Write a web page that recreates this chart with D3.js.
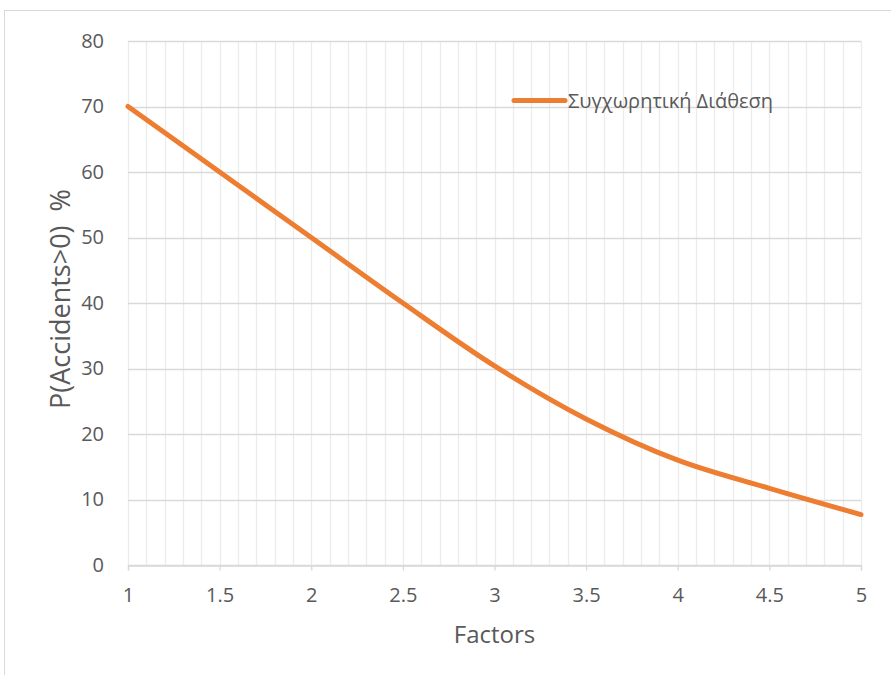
<!DOCTYPE html>
<html>
<head>
<meta charset="utf-8">
<script src="https://cdn.jsdelivr.net/npm/d3@7"></script>
<style>
  html, body { margin: 0; padding: 0; background: #fff; }
  svg { display: block; }
  text { font-family: "Open Sans", "Noto Sans", sans-serif; fill: #595959; }
</style>
</head>
<body>
<svg id="chart" width="891" height="675"></svg>
<script>
// Series: probability of at least one accident vs. number of factors
const factors = [1, 1.5, 2, 2.5, 3, 3.5, 4, 4.5, 5];
const probability = [70, 60, 50, 40, 30.4, 22.3, 16, 11.7, 7.7];
const seriesName = "Συγχωρητική Διάθεση";
const xTicks = [1, 1.5, 2, 2.5, 3, 3.5, 4, 4.5, 5];
const yTicks = [0, 10, 20, 30, 40, 50, 60, 70, 80];
const xTitle = "Factors";
const yTitle = "P(Accidents>0)\u00A0\u00A0%";

const FONT = '"Open Sans", "Noto Sans", sans-serif';
const svg = d3.select("#chart");

// Chart frame
svg.append("rect")
  .attr("x", 4.5).attr("y", 10.5)
  .attr("width", 920).attr("height", 700)
  .attr("fill", "#fff").attr("stroke", "#d9d9d9").attr("stroke-width", 1);

const x = d3.scaleLinear().domain([1, 5]).range([128, 861]);
const y = d3.scaleLinear().domain([0, 80]).range([565, 41]);

// Minor vertical gridlines every 0.1
const minor = d3.range(10, 51).map(d => d / 10);
svg.append("g")
  .selectAll("line")
  .data(minor)
  .join("line")
  .attr("x1", d => Math.round(x(d)) + 0.5)
  .attr("x2", d => Math.round(x(d)) + 0.5)
  .attr("y1", y(80)).attr("y2", y(0))
  .attr("stroke", "#ececec").attr("stroke-width", 1.3);

// Horizontal major gridlines
svg.append("g")
  .selectAll("line")
  .data(yTicks)
  .join("line")
  .attr("x1", x(1)).attr("x2", x(5))
  .attr("y1", d => Math.round(y(d)) + 0.5)
  .attr("y2", d => Math.round(y(d)) + 0.5)
  .attr("stroke", "#d9d9d9").attr("stroke-width", 1.3);

// X axis
const xAxis = svg.append("g")
  .attr("transform", `translate(0,${Math.round(y(0)) + 0.5})`)
  .call(d3.axisBottom(x).tickValues(xTicks).tickSize(5).tickPadding(17)
    .tickFormat(d3.format("")));
xAxis.select(".domain").attr("stroke", "#d9d9d9").attr("stroke-width", 1.3);
xAxis.selectAll(".tick line").attr("stroke", "#d9d9d9").attr("stroke-width", 1.3);
xAxis.selectAll(".tick text")
  .attr("fill", "#595959").attr("font-size", 20)
  .style("font-family", FONT);

// Y axis labels
const yAxis = svg.append("g")
  .attr("transform", `translate(${x(1)},0)`)
  .call(d3.axisLeft(y).tickValues(yTicks).tickSize(0).tickPadding(24));
yAxis.select(".domain").remove();
yAxis.selectAll(".tick text")
  .attr("fill", "#595959").attr("font-size", 20)
  .style("font-family", FONT);

// Axis titles
svg.append("text")
  .attr("x", (x(1) + x(5)) / 2).attr("y", 643)
  .attr("text-anchor", "middle").attr("font-size", 24)
  .text(xTitle);

svg.append("text")
  .attr("transform", "translate(70,409) rotate(-90)")
  .attr("text-anchor", "start").attr("font-size", 27)
  .text(yTitle);

// Smoothed series line
const line = d3.line()
  .x((d, i) => x(factors[i]))
  .y(d => y(d))
  .curve(d3.curveCatmullRom.alpha(0.5));

svg.append("path")
  .datum(probability)
  .attr("d", line)
  .attr("fill", "none")
  .attr("stroke", "#ED7D31")
  .attr("stroke-width", 5)
  .attr("stroke-linecap", "round");

// Legend
const legend = svg.append("g").attr("transform", "translate(512,100.5)");
legend.append("line")
  .attr("x1", 2).attr("x2", 53).attr("y1", 0).attr("y2", 0)
  .attr("stroke", "#ED7D31").attr("stroke-width", 5)
  .attr("stroke-linecap", "round");
legend.append("text")
  .attr("x", 56).attr("y", 7)
  .attr("font-size", 20)
  .text(seriesName);
</script>
</body>
</html>
